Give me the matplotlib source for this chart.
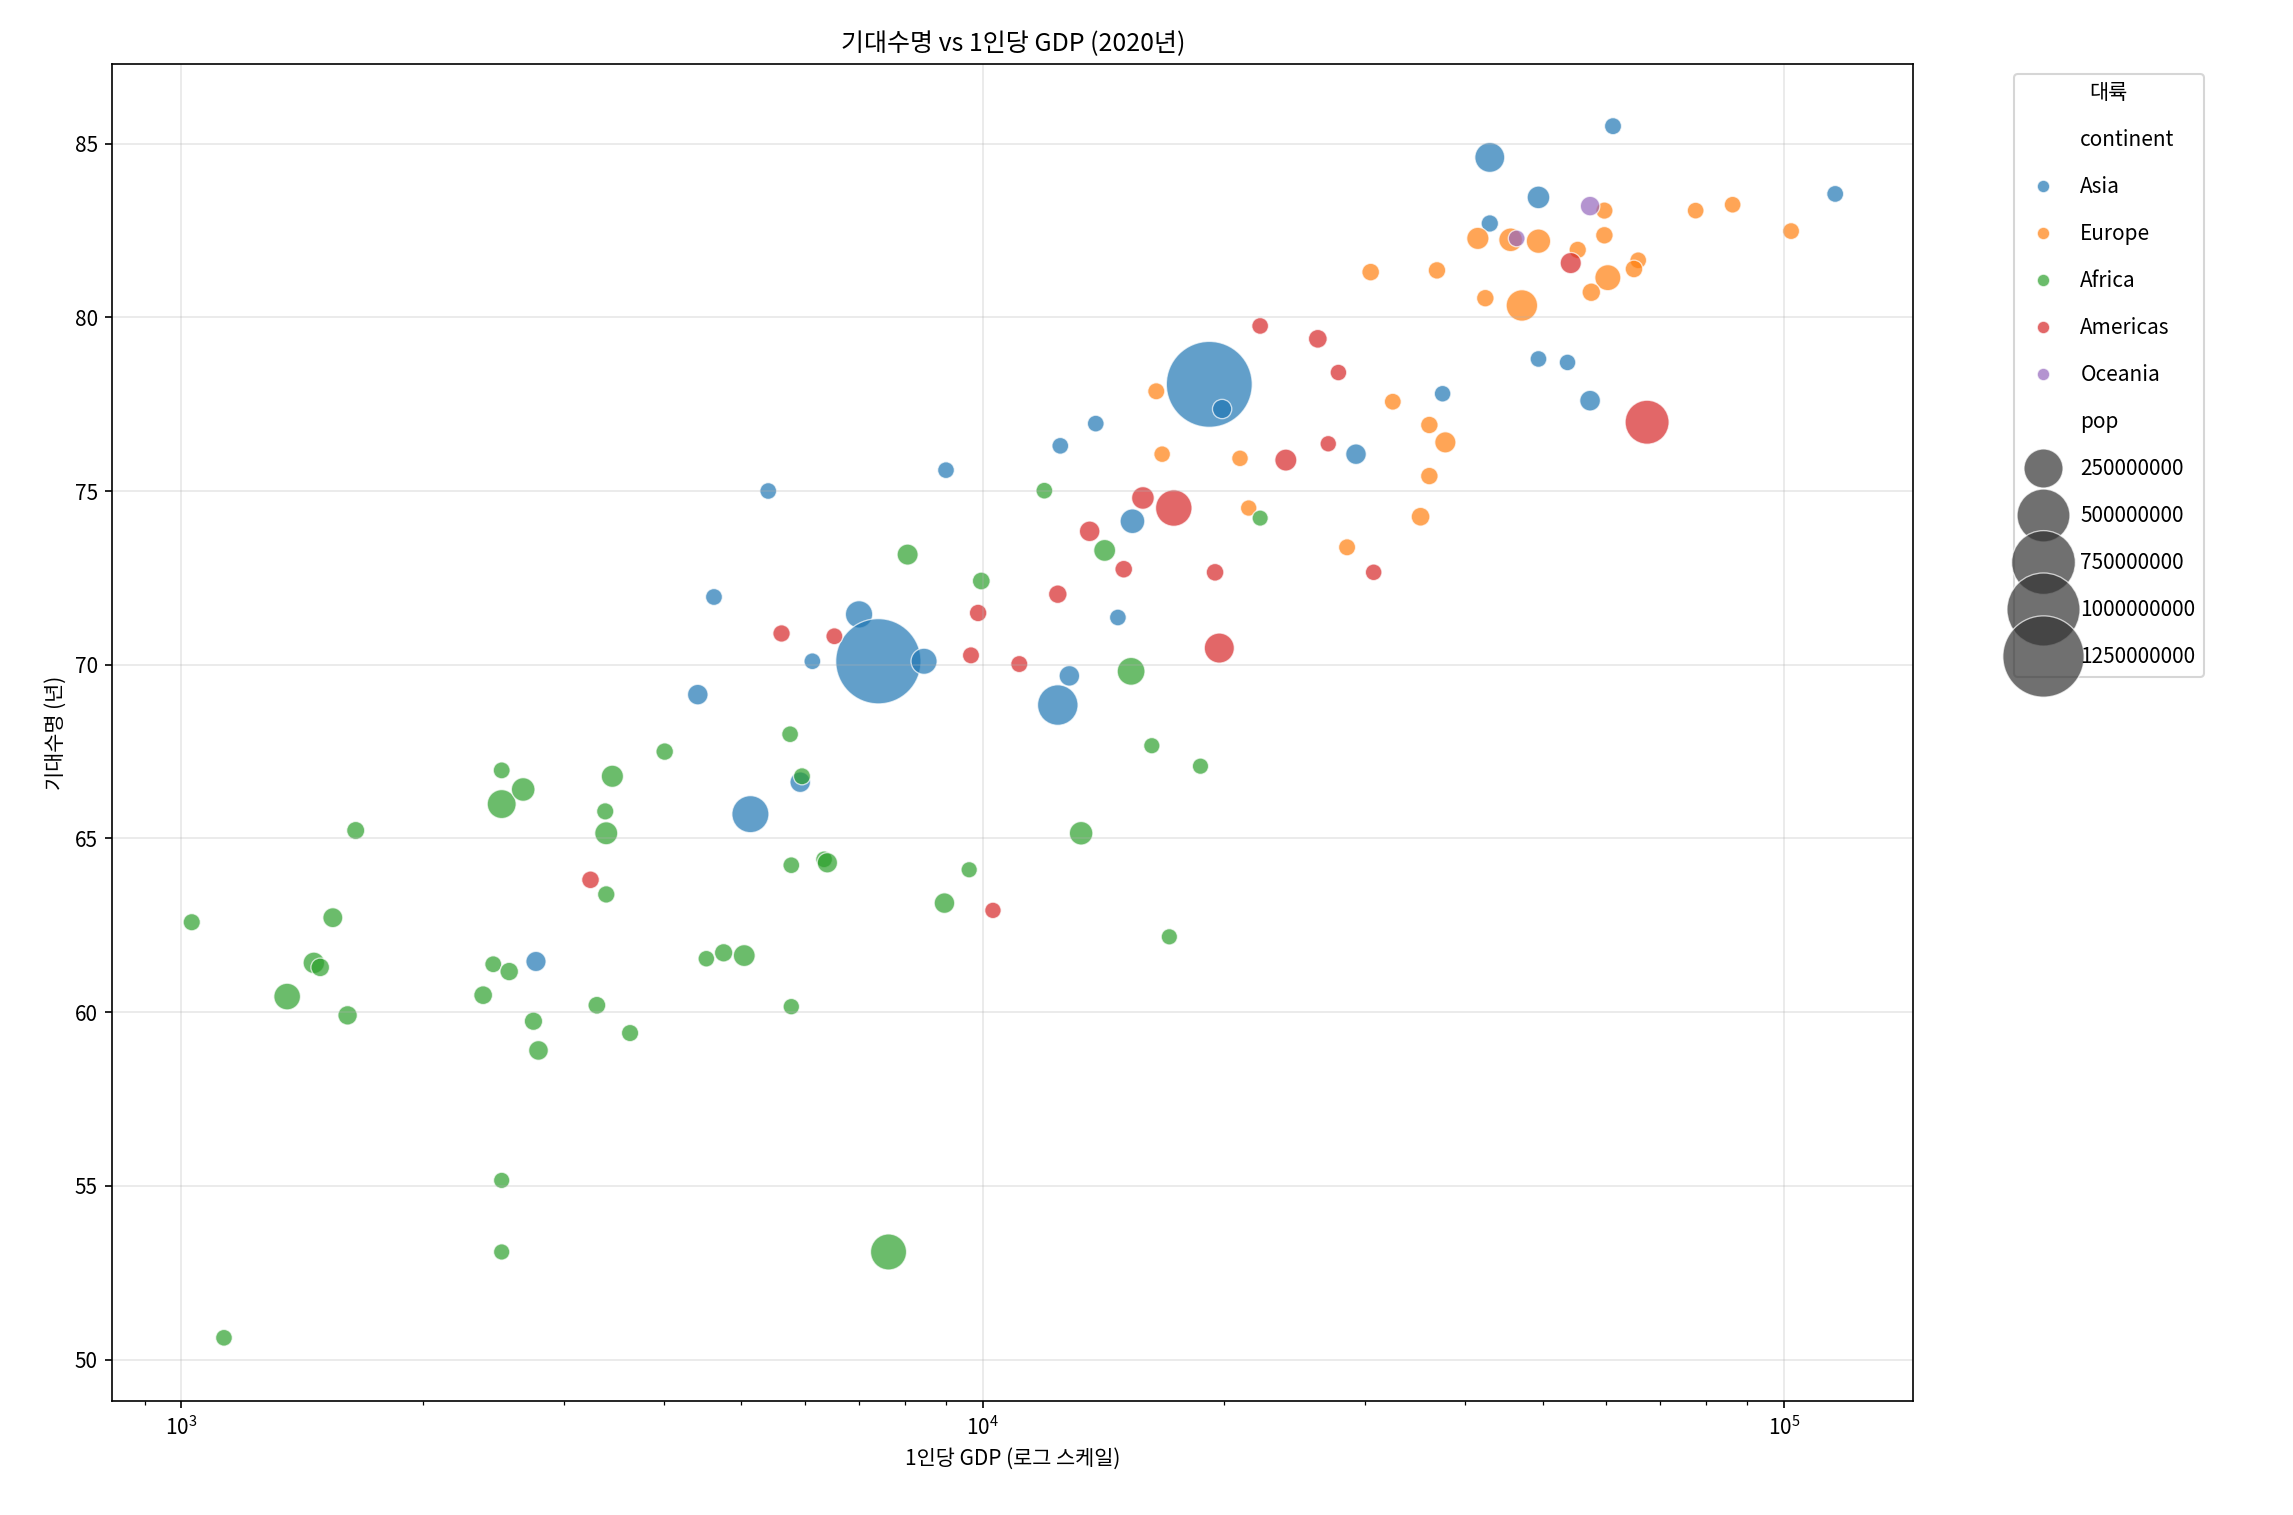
import matplotlib
matplotlib.use("Agg")
import matplotlib.pyplot as plt
import seaborn as sns
import pandas as pd

asia_gdp = [61200, 42950, 49400, 42950, 115900, 49400, 53700, 57300, 37500, 19180, 19900, 29240, 13840, 12500, 9000, 5400, 15380, 14750, 4620, 7010, 7410, 8450, 6130, 4410, 12410, 12830, 5130, 5920, 2770]
asia_life = [85.5, 84.6, 83.45, 82.7, 83.55, 78.8, 78.7, 77.6, 77.8, 78.07, 77.36, 76.06, 76.94, 76.3, 75.6, 75.0, 74.13, 71.36, 71.95, 71.45, 70.1, 70.1, 70.1, 69.14, 68.84, 69.68, 65.7, 66.62, 61.46]
asia_pop = [7e6, 126e6, 51e6, 9e6, 6e6, 5e6, 4e6, 34e6, 4e6, 1402e6, 23e6, 33e6, 5e6, 5e6, 5e6, 5e6, 70e6, 5e6, 6e6, 97e6, 1380e6, 84e6, 5e6, 33e6, 273e6, 33e6, 220e6, 33e6, 30e6]
eu_gdp = [102100, 86300, 77600, 59700, 59700, 55300, 65800, 65000, 60300, 57500, 49400, 45600, 41500, 47100, 42400, 36900, 30500, 32500, 36100, 37800, 36100, 35200, 28500, 16470, 16750, 20950, 21480]
eu_life = [82.48, 83.24, 83.07, 83.07, 82.36, 81.94, 81.64, 81.39, 81.14, 80.72, 82.19, 82.23, 82.27, 80.34, 80.55, 81.35, 81.3, 77.57, 76.9, 76.4, 75.43, 74.26, 73.38, 77.87, 76.06, 75.94, 74.51]
eu_pop = [6e6, 5e6, 5e6, 8e6, 10e6, 9e6, 5e6, 11e6, 83e6, 17e6, 67e6, 60e6, 47e6, 145e6, 10e6, 10e6, 11e6, 6e6, 10e6, 38e6, 10e6, 19e6, 7e6, 7e6, 4e6, 4e6, 3e6]
am_gdp = [67500, 54200, 22200, 26200, 27800, 27000, 23900, 17320, 15850, 13600, 15000, 19500, 30760, 19740, 12410, 9870, 9670, 11110, 5610, 6530, 3240, 10300]
am_life = [76.98, 81.56, 79.75, 79.38, 78.41, 76.36, 75.89, 74.51, 74.8, 73.84, 72.75, 72.66, 72.66, 70.48, 72.03, 71.49, 70.27, 70.02, 70.9, 70.82, 63.81, 62.93]
am_pop = [331e6, 38e6, 5e6, 19e6, 4e6, 3e6, 45e6, 212e6, 51e6, 33e6, 11e6, 11e6, 4e6, 128e6, 17e6, 10e6, 7e6, 7e6, 9e6, 6e6, 11e6, 3e6]
af_gdp = [11940, 22200, 14200, 8060, 9960, 15320, 16260, 18700, 5750, 5950, 4010, 3450, 2510, 2510, 2670, 3380, 3390, 1650, 13270, 5770, 6340, 6400, 9620, 8960, 3390, 1545, 1030, 1463, 1490, 1355, 1612, 2450, 2565, 2380, 4520, 4750, 5040, 17100, 3300, 2750, 3630, 2790, 5770, 7630, 2510, 2510, 1130]
af_life = [75.01, 74.22, 73.29, 73.17, 72.41, 69.81, 67.67, 67.08, 68.0, 66.79, 67.5, 66.79, 66.96, 65.99, 66.41, 65.78, 65.15, 65.23, 65.15, 64.23, 64.4, 64.3, 64.1, 63.14, 63.39, 62.72, 62.59, 61.42, 61.29, 60.45, 59.91, 61.38, 61.17, 60.49, 61.54, 61.71, 61.63, 62.17, 60.2, 59.74, 59.4, 58.9, 60.16, 53.1, 55.16, 53.1, 50.63]
af_pop = [5e6, 1e6, 44e6, 37e6, 12e6, 102e6, 2e6, 2e6, 5e6, 7e6, 10e6, 47e6, 6e6, 115e6, 60e6, 8e6, 54e6, 14e6, 59e6, 5e6, 5e6, 31e6, 2e6, 33e6, 9e6, 28e6, 8e6, 41e6, 18e6, 90e6, 24e6, 6e6, 17e6, 19e6, 4e6, 16e6, 44e6, 2e6, 12e6, 16e6, 8e6, 26e6, 3e6, 206e6, 2e6, 2e6, 5e6]
oc_gdp = [57300, 46400]
oc_life = [83.2, 82.27]
oc_pop = [25e6, 5e6]

frames = []
for name, g, l, p in [("Asia", asia_gdp, asia_life, asia_pop), ("Europe", eu_gdp, eu_life, eu_pop),
                      ("Africa", af_gdp, af_life, af_pop), ("Americas", am_gdp, am_life, am_pop),
                      ("Oceania", oc_gdp, oc_life, oc_pop)]:
    frames.append(pd.DataFrame({"gdpPercap": g, "lifeExp": l, "pop": p, "continent": name}))
df = pd.concat(frames, ignore_index=True)

plt.rcParams['font.family'] = ['Noto Sans CJK KR', 'DejaVu Sans']
fig = plt.figure(figsize=(15.293, 10.1), dpi=150)
ax = fig.add_axes([0.049, 0.075, 0.785, 0.883])
sns.scatterplot(data=df, x="gdpPercap", y="lifeExp", hue="continent", size="pop",
                sizes=(60, 1700), alpha=0.7, ax=ax,
                hue_order=["Asia", "Europe", "Africa", "Americas", "Oceania"])
ax.set_xscale("log")
ax.set_ylim(48.8, 87.3)
ax.set_xlim(820, 145000)
ax.grid(True, alpha=0.3)
ax.set_title("기대수명 vs 1인당 GDP (2020년)")
ax.set_xlabel("1인당 GDP (로그 스케일)")
ax.set_ylabel("기대수명 (년)")
ax.legend(bbox_to_anchor=(1.05, 1), loc="upper left", title="대륙", labelspacing=1.2)
fig.savefig("out.png", dpi=150)
